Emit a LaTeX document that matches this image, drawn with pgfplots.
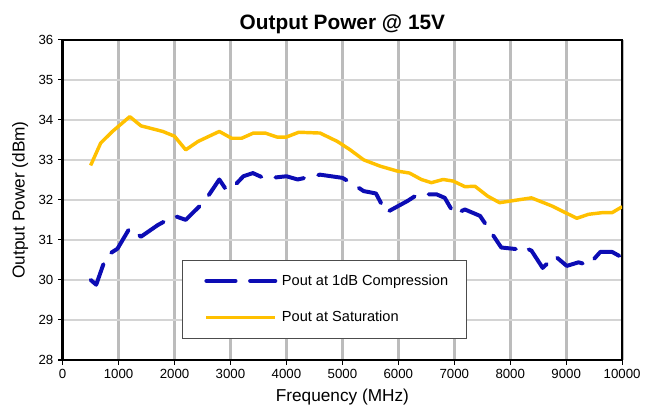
\documentclass[border=0pt]{standalone}
\usepackage{pgfplots}
\pgfplotsset{compat=1.18}
\usepackage{fontspec}
\setmainfont{Liberation Sans}
\definecolor{cblue}{RGB}{12,12,180}
\definecolor{cyel}{RGB}{255,192,0}
\definecolor{vgrid}{RGB}{188,188,188}
\definecolor{hgrid}{RGB}{212,212,212}
\begin{document}
\begin{tikzpicture}
\begin{axis}[
  at={(0,0)}, anchor=south west,
  scale only axis,
  width=422pt, height=241.5pt,
  xmin=0, xmax=10000, ymin=28, ymax=36,
  xtick={0,1000,...,10000}, ytick={28,29,...,36},
  /pgf/number format/assume math mode=true,
  /pgf/number format/1000 sep={},
  scaled x ticks=false,
  tick label style={font=\fontsize{10}{12}\selectfont},
  tick align=outside,
  major tick length=3.5pt,
  tick style={black, line width=0.8pt},
  axis line style={black, line width=1.8pt},
  xtick pos=bottom, ytick pos=left,
  xmajorgrids, ymajorgrids,
  x grid style={vgrid, line width=2.2pt},
  y grid style={hgrid, line width=1.2pt},
  xlabel={Frequency (MHz)},
  ylabel={Output Power (dBm)},
  label style={font=\fontsize{13}{15}\selectfont},
  xlabel style={yshift=-1pt},
  ylabel style={yshift=1pt},
  title={\textbf{Output Power @ 15V}},
  title style={font=\fontsize{15.7}{18}\selectfont, yshift=-5pt},
  legend style={at={(0.2133,0.3137)}, anchor=north west,
    draw=black!70, line width=0.8pt, fill=white,
    font=\fontsize{11}{13}\selectfont,
    inner xsep=12pt, inner ysep=9pt,
    row sep=14pt},
  legend cell align=left,
  legend image code/.code={\path (0pt,0pt); \draw[#1] (4.5pt,0pt) -- (56.5pt,0pt); \path (58pt,0pt);},
]
\addplot[cblue, line width=3pt, line cap=round, line join=round, dash pattern=on 22pt off 11pt] coordinates {
(500,30.00) (600,29.88) (780,30.6) (980,30.78) (1200,31.30) (1400,31.08)
(1700,31.37) (2000,31.60) (2200,31.50) (2300,31.64) (2540,31.97) (2800,32.51)
(2900,32.30) (3000,32.25) (3230,32.59) (3400,32.67) (3620,32.53) (3800,32.56)
(4000,32.59) (4200,32.51) (4600,32.63) (5000,32.55) (5150,32.43) (5380,32.22)
(5600,32.16) (5780,31.68) (6160,31.97) (6350,32.14) (6680,32.14) (6830,32.05)
(7000,31.64) (7190,31.76) (7460,31.60) (7840,30.81) (8110,30.77) (8200,30.85)
(8380,30.73) (8580,30.30) (8800,30.60) (9010,30.35) (9220,30.44) (9400,30.37)
(9610,30.70) (9820,30.70) (10000,30.56)
};
\addlegendentry{Pout at 1dB Compression}
\addplot[cyel, line width=2.6pt, line join=round] coordinates {
(500,32.86) (680,33.42) (890,33.71) (1200,34.08) (1400,33.85) (1790,33.71)
(2000,33.59) (2200,33.25) (2420,33.46) (2800,33.71) (3020,33.54) (3200,33.54)
(3410,33.67) (3620,33.67) (3830,33.57) (4000,33.57) (4220,33.69) (4600,33.67)
(4910,33.46) (5140,33.25) (5380,33.00) (5680,32.84) (5980,32.72) (6200,32.67)
(6410,32.51) (6590,32.43) (6800,32.51) (6980,32.47) (7190,32.33) (7370,32.34)
(7600,32.09) (7810,31.93) (8140,32.00) (8380,32.05) (8740,31.85) (9190,31.54)
(9400,31.64) (9640,31.68) (9820,31.68) (10000,31.83)
};
\addlegendentry{Pout at Saturation}
\end{axis}
\useasboundingbox (-47.25pt,-35.25pt) rectangle (436.5pt,271.5pt);
\end{tikzpicture}
\end{document}
